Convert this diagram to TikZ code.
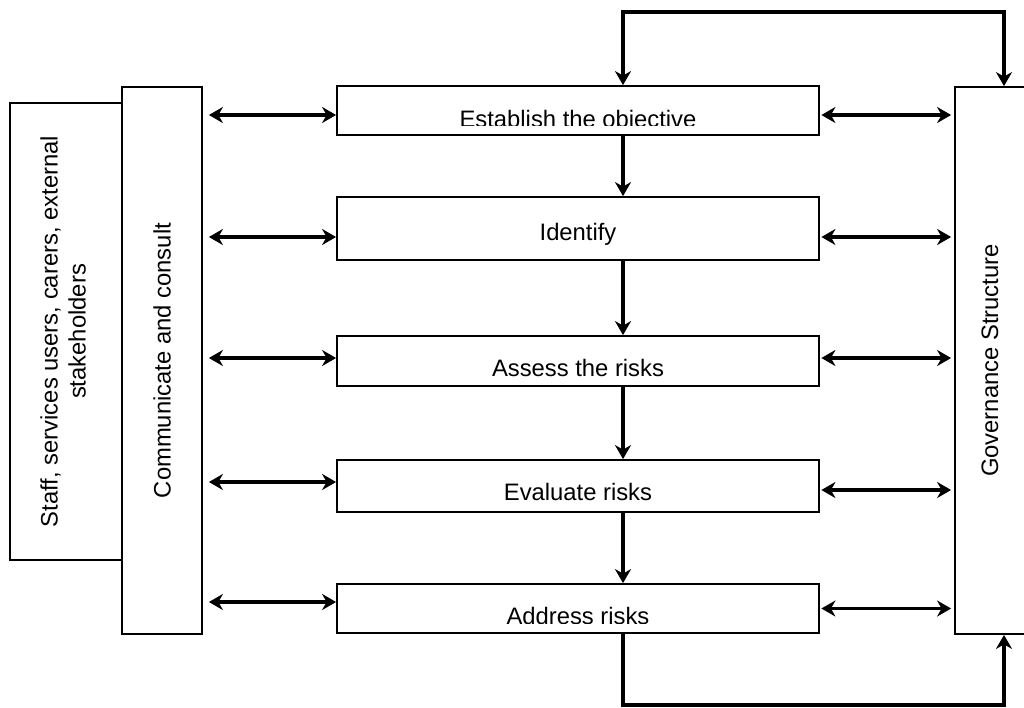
\documentclass[tikz,border=0pt]{standalone}
\usepackage{fontspec}
\setmainfont{Liberation Sans}
\usetikzlibrary{arrows.meta, calc}

\begin{document}
\begin{tikzpicture}[
    x=1pt, y=-1pt,
    every node/.style={font=\fontsize{23.8}{28}\selectfont, inner sep=0pt},
    box/.style={rectangle, draw, line width=1.8pt},
    lbl/.style={anchor=base},
    arrow/.style={-{Stealth[length=14pt, width=16pt, inset=4.5pt]}, line width=3.8pt, line cap=rect},
    dblarrow/.style={{Stealth[length=14pt, width=16pt, inset=4.5pt]}-{Stealth[length=14pt, width=16pt, inset=4.5pt]}, line width=3.8pt}
]
    \useasboundingbox (0,0) rectangle (1024,707);

    % side columns
    \node[box, minimum width=112pt, minimum height=457pt] (staff) at (66,331.5)
        {\rotatebox{90}{\begin{tabular}{@{}c@{}}Staff, services users, carers, external\\stakeholders\end{tabular}}};
    \node[box, minimum width=80pt, minimum height=547pt] (comm) at (162,360.5)
        {\rotatebox{90}{Communicate and consult}};
    \node[box, minimum width=70pt, minimum height=547pt] (gov) at (990,360.5)
        {\rotatebox{90}{Governance Structure}};

    % process steps
    \node[box, minimum width=482pt, minimum height=49pt] (est) at (578,110.5) {};
    \node[box, minimum width=482pt, minimum height=63pt] (ide) at (578,228.5) {};
    \node[box, minimum width=482pt, minimum height=50pt] (ass) at (578,361) {};
    \node[box, minimum width=482pt, minimum height=52pt] (eva) at (578,486) {};
    \node[box, minimum width=482pt, minimum height=49pt] (add) at (578,608.5) {};

    % step labels (cut off near the bottom edge)
    \foreach \b/\txt/\d in {est/Establish the objective/42, ide/Identify/44, ass/Assess the risks/41, eva/Evaluate risks/41, add/Address risks/41} {
        \begin{scope}
            \clip (\b.north west) rectangle ($(\b.south east)+(0,-10)$);
            \node[lbl] (\b-txt) at ($(\b.north)+(0,\d)$) {\txt};
        \end{scope}
    }

    \coordinate (topL) at (623,12);
    \coordinate (topR) at (1004,12);
    \coordinate (botR) at (1004,705);

    % main flow
    \foreach \a/\b in {est/ide, ide/ass, ass/eva, eva/add}
        \draw[arrow] (\a.south -| topL) -- (\b.north -| topL);

    \draw[arrow] (topL) -- (est.north -| topL);
    \draw[arrow] (topL) -- (topR) -- (gov.north -| topR);
    \draw[arrow] (add.south -| topL) |- (botR) -- (gov.south -| botR);

    % links to both sides
    \foreach \b/\l/\r in {est/4.5/4.5, ide/8.5/8.5, ass/-3/-3, eva/-4/4, add/-6.5/0} {
        \draw[dblarrow] ($(comm.east |- \b.center)+(6,\l)$) -- ($(\b.west)+(0,\l)$);
        \draw[dblarrow] ($(\b.east)+(1.5,\r)$) -- ($(gov.west |- \b.center)+(-3,\r)$);
    }
\end{tikzpicture}
\end{document}
